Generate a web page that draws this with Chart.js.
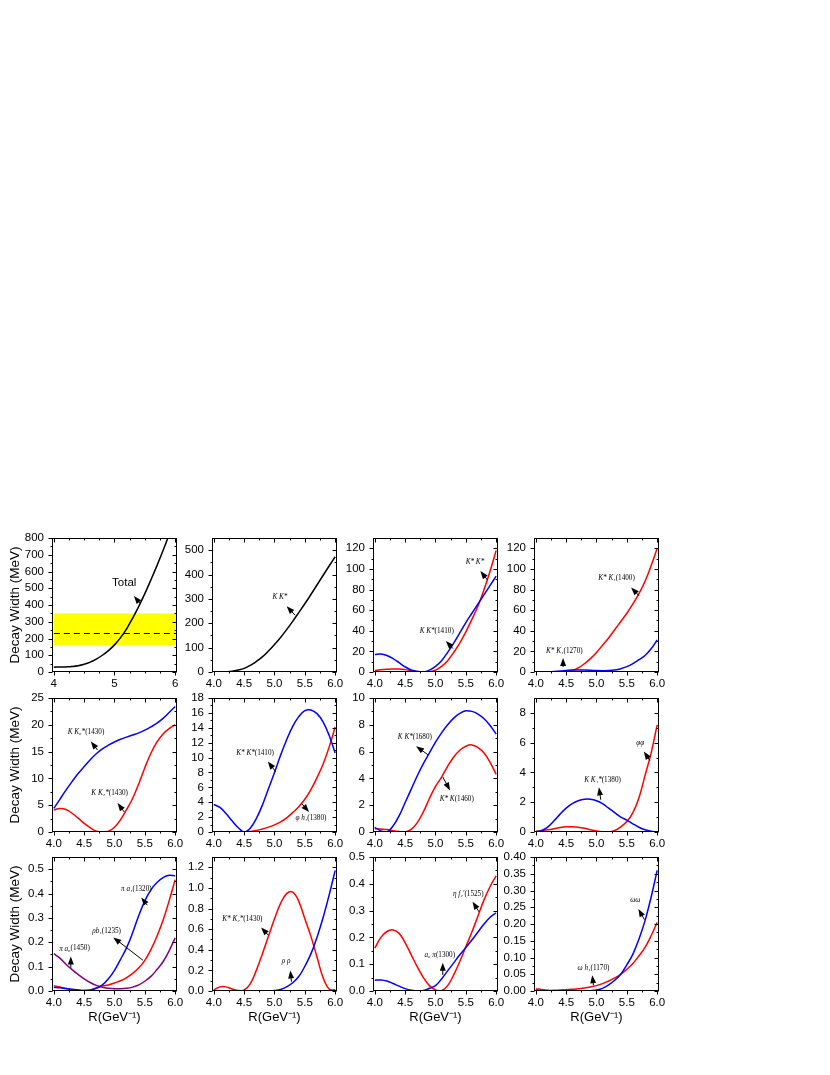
<!DOCTYPE html>
<html lang="en">
<head>
<meta charset="UTF-8">
<title>Decay widths</title>
<script src="https://cdn.jsdelivr.net/npm/chart.js@4.4.1/dist/chart.umd.min.js"></script>
<style>
    body { margin: 0; background: #fff; }
    #page { position: relative; width: 830px; height: 1075px; overflow: hidden; }
    #page canvas { position: absolute; }
</style>
</head>
<body>
<div id="page"></div>
<script>
// R values shared by every curve (GeV^-1)
const rValues = [4.0, 4.1, 4.2, 4.3, 4.4, 4.5, 4.6, 4.7, 4.8, 4.9, 5.0, 5.1, 5.2, 5.3, 5.4, 5.5, 5.6, 5.7, 5.8, 5.9, 6.0];

// row 1
const totalWidth  = [29, 29.5, 30.5, 32.5, 37, 46, 59, 77, 100, 128, 162, 205, 258, 322, 392, 468, 550, 635, 725, 820, 920];
const expBand     = [160, 350];   // experimental range (MeV)
const expCenter   = 230;
const bandR       = [4.0, 6.02];
const kKstar      = [0, 0, 1, 3, 8, 15, 27, 43, 62, 86, 113, 142, 174, 208, 244, 280, 318, 357, 396, 435, 473];
const kK1410      = [17, 17.5, 16, 13, 9, 5, 2, 0.5, 0, 1.8, 5.5, 11, 19, 28, 38, 48, 57, 66, 75, 84, 93];
const kstarKstar  = [1.5, 2.2, 2.7, 3, 2.9, 2.3, 1.4, 0.5, 0, 0.3, 1.8, 5.5, 11, 19, 28, 39, 51, 64, 80, 98, 118];
const kstarK1400  = [0, 0, 0, 0.1, 0.3, 0.6, 1.5, 4, 8, 13, 19, 26, 33, 41, 49, 57, 66, 76, 88, 103, 120];
const kstarK1270  = [0, 0.1, 0.3, 0.6, 1.0, 1.5, 1.9, 2.0, 1.9, 1.7, 1.4, 1.3, 1.4, 2.0, 3.2, 5.2, 8.2, 12, 16, 22.5, 31];

// row 2
const kK0_1430    = [4.4, 6.1, 7.8, 9.4, 10.9, 12.2, 13.5, 14.6, 15.5, 16.2, 16.8, 17.3, 17.7, 18.1, 18.5, 19.0, 19.6, 20.3, 21.2, 22.3, 23.4];
const kK2_1430    = [4.1, 4.4, 4.2, 3.5, 2.6, 1.6, 0.8, 0.15, 0, 0.15, 0.9, 2.3, 4.2, 6.3, 9.0, 12, 14.7, 16.8, 18.3, 19.3, 20];
const kstarK1410  = [3.7, 3.3, 2.5, 1.5, 0.6, 0, 0.5, 1.8, 3.6, 5.8, 8.0, 10.3, 12.4, 14.2, 15.5, 16.3, 16.4, 15.9, 14.8, 13.0, 10.6];
const phiH1_1380  = [0, 0, 0, 0, 0, 0.02, 0.08, 0.2, 0.4, 0.65, 0.95, 1.35, 1.9, 2.6, 3.4, 4.4, 5.7, 7.3, 9.1, 11.4, 14.1];
const kK1680      = [0.35, 0.08, 0, 0.45, 1.2, 2.2, 3.2, 4.2, 5.1, 5.9, 6.7, 7.4, 8.0, 8.5, 8.85, 9.05, 9.0, 8.8, 8.45, 7.95, 7.3];
const kstarK1460  = [0.25, 0.22, 0.18, 0.1, 0.04, 0, 0.2, 0.7, 1.5, 2.5, 3.4, 4.1, 4.9, 5.6, 6.1, 6.4, 6.5, 6.3, 5.9, 5.2, 4.3];
const kK1_1380    = [0, 0.1, 0.35, 0.75, 1.2, 1.6, 1.9, 2.1, 2.2, 2.2, 2.1, 1.9, 1.6, 1.3, 1.0, 0.8, 0.55, 0.32, 0.15, 0.05, 0];
const phiPhi      = [0.05, 0.1, 0.15, 0.22, 0.3, 0.35, 0.35, 0.32, 0.25, 0.15, 0.07, 0.02, 0, 0.1, 0.35, 0.7, 1.3, 2.3, 3.8, 5.3, 7.2];

// row 3
const piA1_1320   = [0.015, 0.013, 0.01, 0.007, 0.004, 0.002, 0.003, 0.012, 0.025, 0.05, 0.085, 0.13, 0.178, 0.24, 0.31, 0.37, 0.415, 0.445, 0.465, 0.475, 0.473];
const rhoB1_1235  = [0.022, 0.016, 0.01, 0.006, 0.003, 0.002, 0.005, 0.012, 0.02, 0.025, 0.033, 0.042, 0.055, 0.072, 0.095, 0.126, 0.17, 0.225, 0.29, 0.37, 0.457];
const piA0_1450   = [0.153, 0.135, 0.11, 0.088, 0.068, 0.05, 0.035, 0.023, 0.015, 0.011, 0.009, 0.009, 0.011, 0.016, 0.025, 0.04, 0.06, 0.088, 0.12, 0.165, 0.218];
const kstarK2_1430 = [0.01, 0.04, 0.04, 0.02, 0.005, 0.01, 0.07, 0.2, 0.36, 0.53, 0.7, 0.85, 0.945, 0.96, 0.87, 0.7, 0.53, 0.33, 0.13, 0.02, 0.01];
const rhoRho      = [0, 0, 0, 0, 0, 0, 0, 0, 0, 0.002, 0.005, 0.015, 0.04, 0.08, 0.14, 0.24, 0.36, 0.52, 0.71, 0.93, 1.17];
const etaF2_1525  = [0.16, 0.2, 0.222, 0.228, 0.215, 0.18, 0.135, 0.09, 0.05, 0.02, 0.004, 0.001, 0.02, 0.06, 0.11, 0.165, 0.22, 0.28, 0.34, 0.39, 0.43];
const a0Pi_1300   = [0.04, 0.041, 0.037, 0.028, 0.018, 0.009, 0.003, 0, 0.002, 0.01, 0.02, 0.045, 0.075, 0.105, 0.135, 0.162, 0.19, 0.22, 0.25, 0.275, 0.292];
const omegaOmega  = [0.002, 0.001, 0, 0, 0, 0, 0, 0, 0, 0.001, 0.003, 0.008, 0.018, 0.032, 0.05, 0.078, 0.11, 0.155, 0.21, 0.28, 0.36];
const omegaH1_1170 = [0.007, 0.004, 0.002, 0.002, 0.003, 0.004, 0.005, 0.007, 0.009, 0.012, 0.016, 0.022, 0.03, 0.039, 0.05, 0.065, 0.082, 0.105, 0.13, 0.165, 0.205];

// axis ticks
const xTicksWhole = [4, 5, 6];
const xTicksHalf  = [4.0, 4.5, 5.0, 5.5, 6.0];

const ink = '#000000', blue = '#0000ff', red = '#ff0000', purple = '#800080', yellow = '#ffff00';
const sans = '"Liberation Sans", Arial, sans-serif';
const serif = '"Liberation Serif", "Times New Roman", serif';

const colLeft = [52, 212, 373, 534];
const rowTop = [538, 698, 857];
const plotW = 125, plotH = 134;

const panels = [
    { row: 0, col: 0, yMax: 800, yTicks: [0,100,200,300,400,500,600,700,800], yDec: 0, xTicks: xTicksWhole, xDec: 0, xMinor: 4,
      series: [{ values: totalWidth, color: ink }], band: true,
      notes: [{ text: ['Total', ''], sans: true, at: [5.16, 530], head: [5.32, 454], tail: [5.42, 410] }] },
    { row: 0, col: 1, yMax: 550, yTicks: [0,100,200,300,400,500], yDec: 0,
      series: [{ values: kKstar, color: ink }],
      notes: [{ text: ['K K*', ''], at: [5.09, 308], head: [5.20, 270], tail: [5.34, 233] }] },
    { row: 0, col: 2, yMax: 130, yTicks: [0,20,40,60,80,100,120], yDec: 0,
      series: [{ values: kK1410, color: blue }, { values: kstarKstar, color: red }],
      notes: [{ text: ['K* K*', ''], at: [5.65, 107], head: [5.74, 98], tail: [5.86, 89] },
              { text: ['K K*', '(1410)'], at: [5.02, 40], head: [5.17, 30], tail: [5.29, 22.7] }] },
    { row: 0, col: 3, yMax: 130, yTicks: [0,20,40,60,80,100,120], yDec: 0,
      series: [{ values: kstarK1270, color: blue }, { values: kstarK1400, color: red }],
      notes: [{ text: ['K* K\u2081', '(1400)'], at: [5.33, 91], head: [5.57, 82], tail: [5.70, 74] },
              { text: ['K* K\u2081', '(1270)'], at: [4.47, 20.4], head: [4.45, 13.6], tail: [4.45, 4.9] }] },

    { row: 1, col: 0, yMax: 25, yTicks: [0,5,10,15,20,25], yDec: 0,
      series: [{ values: kK0_1430, color: blue }, { values: kK2_1430, color: red }],
      notes: [{ text: ['K K\u2080*', '(1430)'], at: [4.53, 18.6], head: [4.61, 16.9], tail: [4.72, 15.3] },
              { text: ['K K\u2082*', '(1430)'], at: [4.92, 7.3], head: [5.05, 5.4], tail: [5.16, 3.75] }] },
    { row: 1, col: 1, yMax: 18, yTicks: [0,2,4,6,8,10,12,14,16,18], yDec: 0,
      series: [{ values: kstarK1410, color: blue }, { values: phiH1_1380, color: red }],
      notes: [{ text: ['K* K*', '(1410)'], at: [4.68, 10.6], head: [4.89, 9.46], tail: [5.02, 8.1] },
              { text: ['\u03c6 h\u2081', '(1380)'], at: [5.6, 1.8], head: [5.57, 2.7], tail: [5.45, 3.8] }] },
    { row: 1, col: 2, yMax: 10, yTicks: [0,2,4,6,8,10], yDec: 0,
      series: [{ values: kK1680, color: blue }, { values: kstarK1460, color: red }],
      notes: [{ text: ['K K*', '(1680)'], at: [4.66, 7.1], head: [4.68, 6.4], tail: [4.88, 5.75] },
              { text: ['K* K', '(1460)'], at: [5.35, 2.45], head: [5.24, 3.1], tail: [5.12, 4.1] }] },
    { row: 1, col: 3, yMax: 9, yTicks: [0,2,4,6,8], yDec: 0,
      series: [{ values: kK1_1380, color: blue }, { values: phiPhi, color: red }],
      notes: [{ text: ['\u03c6\u03c6', ''], at: [5.72, 5.94], head: [5.78, 5.4], tail: [5.88, 4.8] },
              { text: ['K K\u2081*', '(1380)'], at: [5.1, 3.5], head: [5.04, 3.0], tail: [5.07, 2.17] }] },

    { row: 2, col: 0, yMax: 0.55, yTicks: [0,0.1,0.2,0.3,0.4,0.5], yDec: 1,
      series: [{ values: piA1_1320, color: blue }, { values: rhoB1_1235, color: red }, { values: piA0_1450, color: purple }],
      notes: [{ text: ['\u03c0 a\u2081', '(1320)'], at: [5.36, 0.42], head: [5.44, 0.384], tail: [5.54, 0.352] },
              { text: ['\u03c1b\u2081', '(1235)'], at: [4.87, 0.247], head: [4.98, 0.22], tail: [5.47, 0.126] },
              { text: ['\u03c0 a\u2080', '(1450)'], at: [4.34, 0.174], head: [4.28, 0.142], tail: [4.28, 0.095] }] },
    { row: 2, col: 1, yMax: 1.3, yTicks: [0,0.2,0.4,0.6,0.8,1.0,1.2], yDec: 1,
      series: [{ values: rhoRho, color: blue }, { values: kstarK2_1430, color: red }],
      notes: [{ text: ['K* K\u2082*', '(1430)'], at: [4.47, 0.70], head: [4.78, 0.617], tail: [4.9, 0.54] },
              { text: ['\u03c1 \u03c1', ''], at: [5.19, 0.29], head: [5.26, 0.2], tail: [5.28, 0.09] }] },
    { row: 2, col: 2, yMax: 0.5, yTicks: [0,0.1,0.2,0.3,0.4,0.5], yDec: 1,
      series: [{ values: a0Pi_1300, color: blue }, { values: etaF2_1525, color: red }],
      notes: [{ text: ['\u03b7 f\u2082\u2032', '(1525)'], at: [5.54, 0.36], head: [5.61, 0.333], tail: [5.72, 0.295] },
              { text: ['a\u2080 \u03c0', '(1300)'], at: [5.07, 0.133], head: [5.12, 0.105], tail: [5.12, 0.06] }] },
    { row: 2, col: 3, yMax: 0.40, yTicks: [0,0.05,0.1,0.15,0.2,0.25,0.3,0.35,0.4], yDec: 2,
      series: [{ values: omegaOmega, color: blue }, { values: omegaH1_1170, color: red }],
      notes: [{ text: ['\u03c9\u03c9', ''], at: [5.64, 0.27], head: [5.69, 0.245], tail: [5.79, 0.213] },
              { text: ['\u03c9 h\u2081', '(1170)'], at: [4.95, 0.069], head: [4.93, 0.047], tail: [4.95, 0.017] }] }
];

function withMinor(ticks, n) {
    const out = [];
    for (let i = 0; i < ticks.length; i++) {
        out.push({ v: ticks[i], major: true });
        if (i < ticks.length - 1) {
            for (let k = 1; k < n; k++) out.push({ v: ticks[i] + (ticks[i + 1] - ticks[i]) * k / n, major: false });
        }
    }
    return out;
}

function drawArrow(ctx, x1, y1, x2, y2) {
    const ang = Math.atan2(y2 - y1, x2 - x1);
    const c = Math.cos(ang), s = Math.sin(ang);
    ctx.beginPath();
    ctx.moveTo(x1, y1);
    ctx.lineTo(x2 - 5 * c, y2 - 5 * s);
    ctx.stroke();
    ctx.beginPath();
    ctx.moveTo(x2, y2);
    ctx.lineTo(x2 - 8 * c + 3 * s, y2 - 8 * s - 3 * c);
    ctx.lineTo(x2 - 8 * c - 3 * s, y2 - 8 * s + 3 * c);
    ctx.closePath();
    ctx.fill();
}

// box, mirrored ticks and the labelled arrows
const frameAndNotes = {
    id: 'frameAndNotes',
    afterDatasetsDraw(chart) {
        const p = chart.canvas.panel;
        const { ctx, chartArea: a } = chart;
        const xs = chart.scales.x, ys = chart.scales.y;
        ctx.save();
        ctx.strokeStyle = ink;
        ctx.fillStyle = ink;
        ctx.lineWidth = 1;
        const L = Math.round(a.left) + 0.5, R = Math.round(a.right) - 0.5;
        const T = Math.round(a.top) + 0.5, B = Math.round(a.bottom) - 0.5;
        ctx.strokeRect(L, T, R - L, B - T);
        ctx.beginPath();
        withMinor(p.xTicks, p.xMinor).forEach(t => {
            const px = Math.round(xs.getPixelForValue(t.v)) + 0.5;
            const len = t.major ? 4 : 2;
            ctx.moveTo(px, B); ctx.lineTo(px, B + len);
            ctx.moveTo(px, T); ctx.lineTo(px, T + len);
        });
        withMinor(p.yTicks, 2).forEach(t => {
            const py = Math.round(ys.getPixelForValue(t.v)) + 0.5;
            const len = t.major ? 4 : 2;
            ctx.moveTo(L - len, py); ctx.lineTo(L, py);
            ctx.moveTo(R, py); ctx.lineTo(R - len, py);
        });
        ctx.stroke();

        p.notes.forEach(n => {
            drawArrow(ctx, xs.getPixelForValue(n.tail[0]), ys.getPixelForValue(n.tail[1]),
                           xs.getPixelForValue(n.head[0]), ys.getPixelForValue(n.head[1]));
            const cx = xs.getPixelForValue(n.at[0]), cy = ys.getPixelForValue(n.at[1]);
            ctx.textBaseline = 'middle';
            ctx.textAlign = 'left';
            const f1 = n.sans ? '11.5px ' + sans : 'italic 7.2px ' + serif;
            const f2 = '7.2px ' + serif;
            ctx.font = f1;
            const w1 = ctx.measureText(n.text[0]).width;
            ctx.font = f2;
            const w2 = ctx.measureText(n.text[1]).width;
            const x0 = cx - (w1 + w2) / 2;
            ctx.font = f1;
            ctx.fillText(n.text[0], x0, cy);
            ctx.font = f2;
            ctx.fillText(n.text[1], x0 + w1, cy);
        });
        ctx.restore();
    }
};

const page = document.getElementById('page');

panels.forEach(p => {
    p.xTicks = p.xTicks || xTicksHalf;
    p.xDec = p.xDec === undefined ? 1 : p.xDec;
    p.xMinor = p.xMinor || 2;
    const yAxisW = p.col === 0 ? 52 : 40;
    const xAxisH = p.row === 2 ? 36 : 22;
    const cv = document.createElement('canvas');
    cv.width = yAxisW + plotW + 10;
    cv.height = 8 + plotH + xAxisH;
    cv.style.left = (colLeft[p.col] - yAxisW) + 'px';
    cv.style.top = (rowTop[p.row] - 8) + 'px';
    cv.panel = p;
    page.appendChild(cv);

    const datasets = p.series.map(s => ({
        data: rValues.map((r, k) => ({ x: r, y: s.values[k] })),
        borderColor: s.color,
        borderWidth: 1.5,
        pointRadius: 0,
        fill: false,
        tension: 0.4,
        order: 1
    }));
    if (p.band) {
        datasets.push({
            data: bandR.map(r => ({ x: r, y: expCenter })),
            borderColor: ink, borderWidth: 1.2, borderDash: [6, 4], pointRadius: 0, fill: false, order: 2
        });
        datasets.push({
            data: bandR.map(r => ({ x: r, y: expBand[1] })),
            borderWidth: 0, pointRadius: 0, backgroundColor: yellow, fill: { value: expBand[0] }, order: 3
        });
    }

    new Chart(cv, {
        type: 'line',
        data: { datasets },
        options: {
            responsive: false,
            animation: false,
            events: [],
            layout: { padding: { top: 8, right: 10, left: 0, bottom: 0 } },
            plugins: { legend: { display: false }, tooltip: { enabled: false } },
            scales: {
                x: {
                    type: 'linear', min: 3.97, max: 6.03,
                    afterBuildTicks: s => { s.ticks = p.xTicks.map(v => ({ value: v })); },
                    afterFit: s => { s.height = xAxisH; s.paddingLeft = 0; s.paddingRight = 0; },
                    grid: { display: false, drawTicks: false },
                    border: { display: false },
                    ticks: { autoSkip: false, maxRotation: 0, padding: 5, color: ink,
                             font: { family: sans, size: 11.5 }, callback: v => v.toFixed(p.xDec) },
                    title: { display: p.row === 2, text: 'R(GeV\u207b\u00b9)', color: ink,
                             font: { family: sans, size: 13 }, padding: { top: 2, bottom: 2 } }
                },
                y: {
                    min: 0, max: p.yMax,
                    afterBuildTicks: s => { s.ticks = p.yTicks.map(v => ({ value: v })); },
                    afterFit: s => { s.width = yAxisW; s.paddingTop = 0; s.paddingBottom = 0; },
                    grid: { display: false, drawTicks: false },
                    border: { display: false },
                    ticks: { autoSkip: false, padding: 8, color: ink,
                             font: { family: sans, size: 11.5 }, callback: v => v.toFixed(p.yDec) },
                    title: { display: p.col === 0, text: 'Decay Width (MeV)', color: ink,
                             font: { family: sans, size: 13.5 }, padding: { top: 7, bottom: 0 } }
                }
            }
        },
        plugins: [frameAndNotes]
    });
});
</script>
</body>
</html>
